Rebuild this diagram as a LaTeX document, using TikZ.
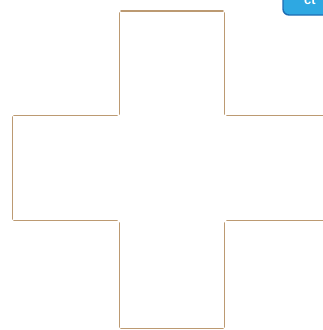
\documentclass[tikz,border=0pt]{standalone}
\usepackage{fontspec}
\setmainfont{Liberation Sans}
\definecolor{tan}{HTML}{BC9A72}
\definecolor{btnfill}{HTML}{2EA8E2}
\definecolor{btnedge}{HTML}{1E6DB3}
\begin{document}
\begin{tikzpicture}[x=1pt,y=-1pt,
  edge/.style={draw=tan,line width=1.7pt,line cap=round}]
\useasboundingbox (0,0) rectangle (323,330);
\begin{scope}
\clip (0,0) rectangle (323,330);
% button in the corner
\draw[btnedge,fill=btnfill,line width=1.4pt,rounded corners=6pt] (283,-12) rectangle (335,15);
\fill[btnfill] (284,-12) rectangle (335,11.3);
\node[text=white,font=\bfseries\fontsize{13}{13}\selectfont,anchor=base west,inner sep=0pt] (lbl) at (304,4.5) {ct};
\end{scope}
% top arm
\draw[edge] (121,11) -- (223,11);
\draw[edge] (119.5,13) -- (119.5,114);
\draw[edge] (224.5,13) -- (224.5,114);
% left arm
\draw[edge] (14,115.5) -- (117,115.5);
\draw[edge] (12.5,117) -- (12.5,219);
\draw[edge] (14,220.5) -- (117,220.5);
% right arm
\draw[edge] (227,115.5) -- (323,115.5);
\draw[edge] (227,220.5) -- (323,220.5);
% bottom arm
\draw[edge] (119.5,223) -- (119.5,327);
\draw[edge] (224.5,223) -- (224.5,327);
\draw[edge] (121,328.5) -- (223,328.5);
\end{tikzpicture}
\end{document}
